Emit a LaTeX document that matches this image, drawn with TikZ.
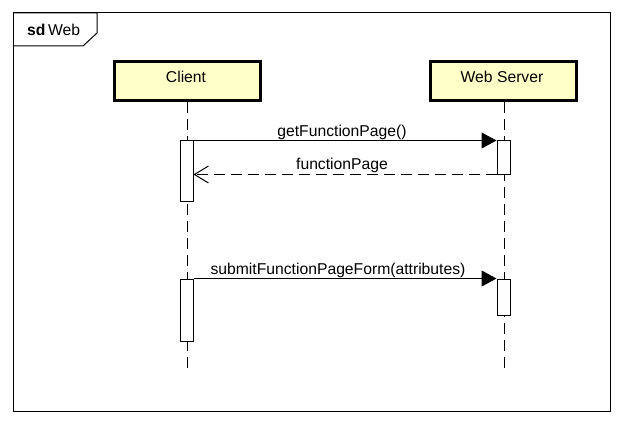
\documentclass[tikz,border=0pt]{standalone}
\usepackage{fontspec}
\setmainfont{Liberation Sans}
\usetikzlibrary{arrows.meta}
\definecolor{lifefill}{RGB}{255,255,200}
\begin{document}
\begin{tikzpicture}[x=1pt,y=-1pt,
  every node/.style={font=\fontsize{15.7}{18}\selectfont, inner sep=0pt},
  lifebox/.style={draw=black, line width=3pt, fill=lifefill, minimum width=146pt, minimum height=39pt},
  actbox/.style={draw=black, line width=1pt, fill=white, minimum width=13pt},
  lifeline/.style={line width=1pt, dash pattern=on 11pt off 6pt},
  callmsg/.style={line width=1pt, -{Triangle[length=15pt,width=16pt]}},
  retmsg/.style={line width=1pt, dash pattern=on 11pt off 6pt, -{Straight Barb[length=14pt,width=17pt,line width=1pt]}},
  msglabel/.style={anchor=base}
]
\useasboundingbox (0,0) rectangle (624,425);
\fill[white] (0,0) rectangle (624,425);
% frame
\draw[line width=1pt] (13,13) rectangle (610,411);
\draw[line width=1pt] (13,13) -- (97,13) -- (97,33) -- (83,46) -- (13,46);
\node[anchor=base west] (sdlabel) at (27,36) {\textbf{sd}\,Web};
% lifeline heads
\node[lifebox] (client) at (187.5,81) {};
\node[lifebox] (server) at (503.5,81) {};
\node[anchor=base] (clientlbl) at (186,83) {Client};
\node[anchor=base] (serverlbl) at (502,83) {Web Server};
\coordinate (clientend) at (187,372);
\coordinate (serverend) at (504,372);
\draw[lifeline] (client.south -| clientend) -- (clientend);
\draw[lifeline] (server.south -| serverend) -- (serverend);
% activations
\node[actbox, minimum height=60pt] (cact1) at (186.5,171) {};
\node[actbox, minimum height=34pt] (sact1) at (503.5,158) {};
\node[actbox, minimum height=62pt] (cact2) at (186.5,310) {};
\node[actbox, minimum height=36pt] (sact2) at (503.5,297) {};
% messages
\draw[callmsg] (cact1.north east) -- (sact1.north west);
\draw[retmsg] ([yshift=1pt]sact1.south west) -- ([yshift=1pt]sact1.south west -| cact1.east);
\draw[callmsg] (cact2.north east) -- (sact2.north west);
\node[msglabel] (m1) at (342,137) {getFunctionPage()};
\node[msglabel] (m2) at (342,170) {functionPage};
\node[msglabel] (m3) at (338,274) {submitFunctionPageForm(attributes)};
\end{tikzpicture}
\end{document}
